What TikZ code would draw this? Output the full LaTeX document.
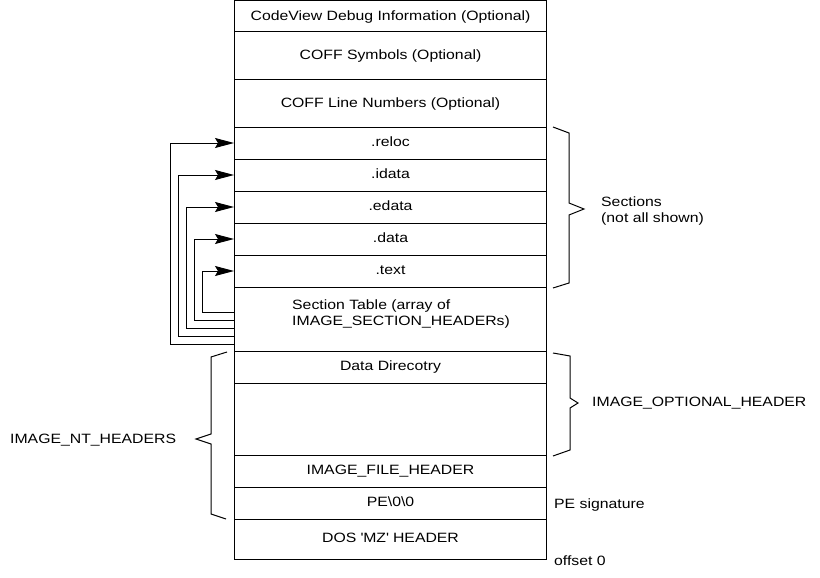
\documentclass[tikz,border=0pt]{standalone}
\usepackage{fontspec}
\setmainfont{Liberation Sans}[FakeStretch=1.17]
\usetikzlibrary{arrows.meta, positioning}

\tikzset{
    row/.style={draw, line width=1pt, minimum width=312pt, inner sep=0pt, text depth=2.5pt},
    ptr/.style={line width=1pt, -{Stealth[length=19pt, width=10pt, inset=3pt]}},
    brace/.style={line width=1pt},
    note/.style={anchor=west, inner sep=0pt, align=left}
}

\begin{document}
\begin{tikzpicture}[x=1pt, y=-1pt, font=\fontsize{13.5}{16}\selectfont]
        \useasboundingbox (0,0) rectangle (820,578);

        % file layout, top to bottom
        \foreach \name/\y/\h/\txt in {
                cv/16.5/31/{CodeView Debug Information (Optional)},
                coffsym/56/48/{COFF Symbols (Optional)},
                coffline/103.5/47/{COFF Line Numbers (Optional)},
                reloc/143/32/{.reloc},
                idata/175/32/{.idata},
                edata/207/32/{.edata},
                data/239/32/{.data},
                text/271/32/{.text},
                sectab/319/64/{},
                datadir/367/32/{Data Direcotry},
                opthdr/419/72/{},
                filehdr/471/32/{IMAGE\_FILE\_HEADER},
                pesig/503/32/{PE\textbackslash 0\textbackslash 0},
                dos/539/40/{DOS \textquotesingle MZ\textquotesingle\ HEADER}} {
            \node[row, minimum height=\h pt] (\name) at (390.5, \y) {\txt};
        }
        \node[note] (sectabtext) at (292, 314) {Section Table (array of\\IMAGE\_SECTION\_HEADERs)};

        % section headers point to sections
        \foreach \sec/\dx/\yy in {text/32/312, data/40/320, edata/48/328, idata/56/336, reloc/64/344} {
            \draw[ptr] (sectab.west |- 0,\yy) -- ++(-\dx, 0) |- (\sec.west);
        }

        % braces
        \draw[brace] (553,127) -- (569,133) -- (569,203) -- (584,209) -- (569,215) -- (569,283) -- (553,288);
        \node[note] (sections) at (601, 211) {Sections\\(not all shown)};

        \draw[brace] (553,353) -- (570,356) -- (570,398) -- (578,403) -- (570,408) -- (570,450) -- (553,456);
        \node[note] (opthdrlabel) at (592, 403) {IMAGE\_OPTIONAL\_HEADER};

        \draw[brace] (227,352) -- (211,357) -- (211,434) -- (196,439) -- (211,444) -- (211,514) -- (226,519);
        \node[note] (ntlabel) at (10, 440) {IMAGE\_NT\_HEADERS};

        % side notes
        \node[note] (pesiglabel) at (554, 505) {PE signature};
        \node[note] (offsetlabel) at (554, 561) {offset 0};

    \end{tikzpicture}
\end{document}
